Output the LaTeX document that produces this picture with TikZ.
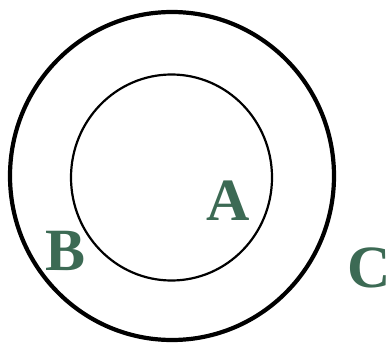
\documentclass[tikz,border=0pt]{standalone}
\usepackage{fontspec}
\setmainfont{Liberation Serif}
\definecolor{lbl}{HTML}{3C6A54}
\begin{document}
\begin{tikzpicture}[x=1pt,y=-1pt,
  lab/.style={text=lbl,font=\fontsize{60}{60}\selectfont\bfseries,inner sep=0pt,anchor=center}]
\useasboundingbox (0,0) rectangle (390,347);
\draw[line width=4.2pt] (172,176) ellipse [x radius=162, y radius=164];
\draw[line width=2.2pt] (171.5,177.5) ellipse [x radius=100.5, y radius=103];
\node[lab] (A) at (228.5,201) {A};
\node[lab] (B) at (66,251) {B};
\node[lab] (C) at (369,268) {C};
\end{tikzpicture}
\end{document}
